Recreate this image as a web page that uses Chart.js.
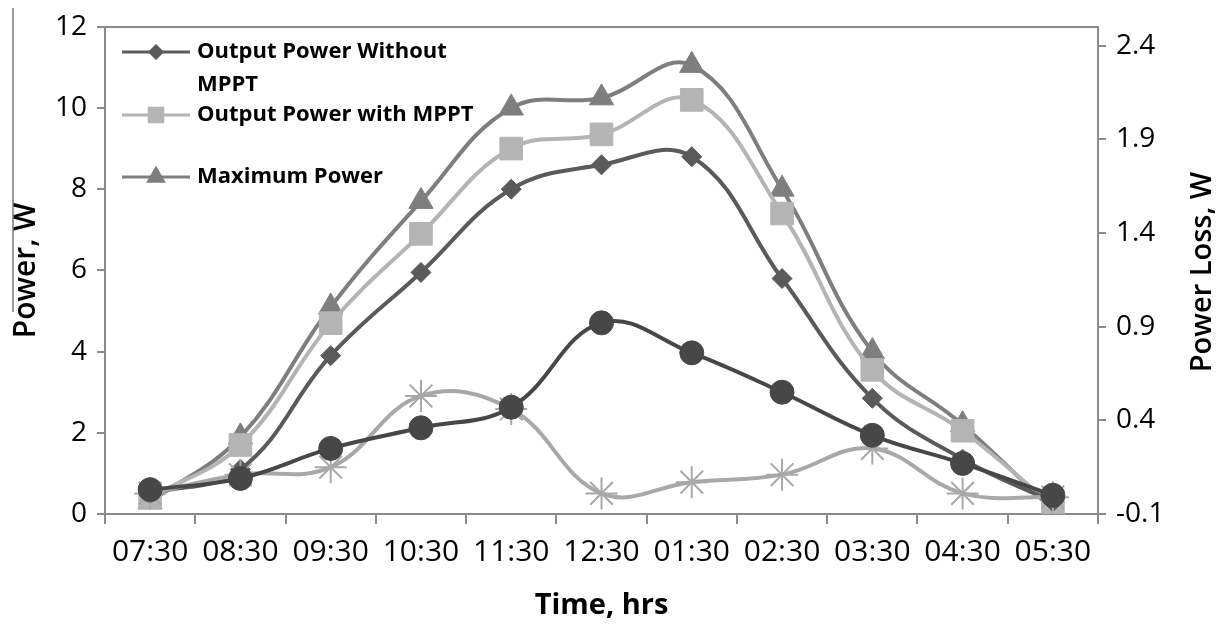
<!DOCTYPE html>
<html>
<head>
<meta charset="utf-8">
<script src="https://cdn.jsdelivr.net/npm/chart.js@4.4.0/dist/chart.umd.min.js"></script>
<style>
  html, body { margin: 0; padding: 0; background: #fff; }
  #wrap { width: 1220px; height: 628px; }
</style>
</head>
<body>
<div id="wrap"><canvas id="chart" width="1220" height="628"></canvas></div>
<script>
const timeLabels = ['07:30', '08:30', '09:30', '10:30', '11:30', '12:30', '01:30', '02:30', '03:30', '04:30', '05:30'];

// left axis, W
const withoutMppt = [0.5, 1.1, 3.9, 5.95, 8.0, 8.6, 8.8, 5.8, 2.85, 1.35, 0.3];
const withMppt = [0.4, 1.7, 4.7, 6.9, 9.0, 9.35, 10.2, 7.4, 3.55, 2.05, 0.2];
const maxPower = [0.3, 1.9, 5.1, 7.7, 10.0, 10.25, 11.05, 8.0, 4.0, 2.2, 0.1];

// right axis, power loss W
const lossCircle = [0.03, 0.09, 0.25, 0.36, 0.47, 0.92, 0.76, 0.55, 0.32, 0.17, 0.0];
const lossStar = [0.01, 0.11, 0.15, 0.53, 0.46, 0.01, 0.07, 0.11, 0.25, 0.01, -0.01];

const lossTicks = [-0.1, 0.4, 0.9, 1.4, 1.9, 2.4];

const axisColor = '#8a8a8a';
const textColor = '#000';
const fontFamily = "'Open Sans', 'DejaVu Sans', sans-serif";

const seriesStyle = [
    { name: 'Output Power Without', name2: 'MPPT', color: '#5a5a5a', style: 'rectRot', r: 10 },
    { name: 'Output Power with MPPT', color: '#b4b4b4', style: 'rect', r: 16 },
    { name: 'Maximum Power', color: '#7e7e7e', style: 'triangle', r: 14 }
];

function lineSet(label, data, color, style, radius, axis, order, extra) {
    return Object.assign({
        label: label,
        data: data,
        yAxisID: axis,
        borderColor: color,
        backgroundColor: color,
        borderWidth: 4,
        pointStyle: style,
        pointRadius: radius,
        pointHoverRadius: radius,
        pointBackgroundColor: color,
        pointBorderColor: color,
        pointBorderWidth: 1,
        tension: 0.4,
        fill: false,
        order: order
    }, extra || {});
}

const extrasPlugin = {
    id: 'extras',
    afterDraw(chart) {
        const ctx = chart.ctx;
        ctx.save();

        // legend inside plot area
        const rows = [52, 115, 177];
        seriesStyle.forEach((s, i) => {
            const y = rows[i];
            ctx.strokeStyle = s.color;
            ctx.lineWidth = 3;
            ctx.beginPath();
            ctx.moveTo(122, y);
            ctx.lineTo(190, y);
            ctx.stroke();
            ctx.fillStyle = s.color;
            Chart.helpers.drawPoint(ctx, { pointStyle: s.style, radius: s.r * 0.6, rotation: 0, borderWidth: 1 }, 156, y);
            ctx.fillStyle = textColor;
            ctx.font = "bold 22px " + fontFamily;
            ctx.textAlign = 'left';
            ctx.textBaseline = 'middle';
            ctx.fillText(s.name, 197, y);
            if (s.name2) ctx.fillText(s.name2, 197, y + 33);
        });

        // right axis title, reading bottom to top
        ctx.translate(1203, 272);
        ctx.rotate(-Math.PI / 2);
        ctx.fillStyle = textColor;
        ctx.font = "600 29px " + fontFamily;
        ctx.textAlign = 'center';
        ctx.textBaseline = 'middle';
        ctx.fillText('Power Loss, W', 0, 0);
        ctx.restore();

        // thin rule beside the left title
        ctx.save();
        ctx.strokeStyle = '#777';
        ctx.lineWidth = 1.5;
        ctx.beginPath();
        ctx.moveTo(13, 8);
        ctx.lineTo(13, 312);
        ctx.stroke();
        ctx.restore();
    }
};

new Chart(document.getElementById('chart'), {
    type: 'line',
    data: {
        labels: timeLabels,
        datasets: [
            lineSet('Output Power Without MPPT', withoutMppt, '#5a5a5a', 'rectRot', 10, 'y', 3),
            lineSet('Output Power with MPPT', withMppt, '#b4b4b4', 'rect', 16, 'y', 4),
            lineSet('Maximum Power', maxPower, '#7e7e7e', 'triangle', 14, 'y', 5),
            lineSet('Power Loss 1', lossCircle, '#474747', 'circle', 12, 'y2', 1),
            lineSet('Power Loss 2', lossStar, '#a8a8a8', 'star', 16, 'y2', 2, { pointBorderWidth: 2 })
        ]
    },
    options: {
        responsive: false,
        animation: false,
        devicePixelRatio: 1,
        layout: { padding: { top: 23, left: 0, right: 0, bottom: 0 } },
        plugins: {
            legend: { display: false },
            tooltip: { enabled: false }
        },
        scales: {
            x: {
                offset: true,
                grid: {
                    offset: true,
                    drawOnChartArea: false,
                    color: axisColor,
                    lineWidth: 2,
                    tickLength: 10
                },
                border: { color: axisColor, width: 2 },
                ticks: {
                    color: textColor,
                    font: { family: fontFamily, size: 30 },
                    padding: 10,
                    maxRotation: 0,
                    autoSkip: false
                },
                title: {
                    display: true,
                    text: 'Time, hrs',
                    color: textColor,
                    font: { family: fontFamily, size: 29, weight: 'bold' },
                    padding: { top: 5, bottom: 5 }
                },
                afterFit: s => { s.height = 114; }
            },
            y: {
                position: 'left',
                min: 0,
                max: 12,
                ticks: {
                    stepSize: 2,
                    color: textColor,
                    font: { family: fontFamily, size: 28 },
                    padding: 10
                },
                grid: {
                    color: c => (c.tick && c.tick.value === 12 ? axisColor : 'transparent'),
                    tickColor: axisColor,
                    lineWidth: 2,
                    tickLength: 8
                },
                border: { color: axisColor, width: 2 },
                title: {
                    display: true,
                    text: 'Power, W',
                    color: textColor,
                    font: { family: fontFamily, size: 30, weight: '600' },
                    padding: { top: 8, bottom: 8 }
                },
                afterFit: s => { s.width = 105; }
            },
            y2: {
                position: 'right',
                min: -0.1,
                max: 2.5,
                afterBuildTicks: s => { s.ticks = lossTicks.map(v => ({ value: v })); },
                ticks: {
                    color: textColor,
                    font: { family: fontFamily, size: 28 },
                    padding: 10,
                    callback: v => Number(v).toFixed(1)
                },
                grid: {
                    drawOnChartArea: false,
                    color: axisColor,
                    lineWidth: 2,
                    tickLength: 8
                },
                border: { color: axisColor, width: 2 },
                afterFit: s => { s.width = 122; }
            }
        }
    },
    plugins: [extrasPlugin]
});
</script>
</body>
</html>
